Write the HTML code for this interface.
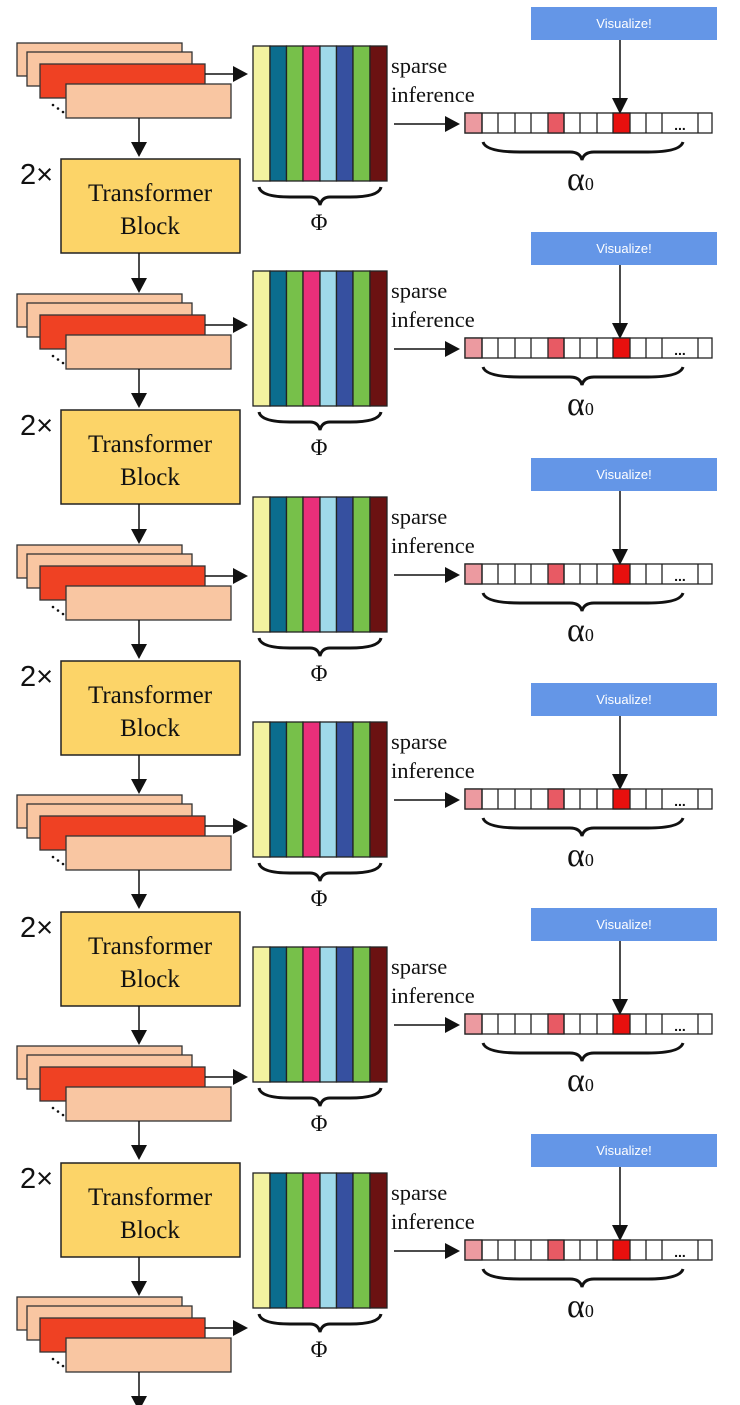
<!DOCTYPE html>
<html><head><meta charset="utf-8"><style>
html,body{margin:0;padding:0;background:#fff;width:740px;height:1405px;overflow:hidden}
svg{display:block}
.s{font-family:"Liberation Serif",serif}
.a{font-family:"Liberation Sans",sans-serif}
</style></head><body>
<svg width="740" height="1405" viewBox="0 0 740 1405" xmlns="http://www.w3.org/2000/svg">
<defs>
<g id="stk">
<rect x="17" y="0" width="165" height="33" fill="#f9c6a2" stroke="#333" stroke-width="1.3"/>
<rect x="27" y="9" width="165" height="34" fill="#f9c6a2" stroke="#333" stroke-width="1.3"/>
<rect x="40" y="21" width="165" height="34" fill="#ef4123" stroke="#333" stroke-width="1.3"/>
<rect x="66" y="41" width="165" height="34" fill="#f9c6a2" stroke="#333" stroke-width="1.3"/>
<circle cx="53" cy="62" r="1.3" fill="#111"/><circle cx="58" cy="65.5" r="1.3" fill="#111"/><circle cx="63" cy="69" r="1.3" fill="#111"/>
<line x1="205" y1="31" x2="236" y2="31" stroke="#111" stroke-width="1.5"/>
<polygon points="233,23 248,31 233,39" fill="#111"/>
<line x1="139" y1="75" x2="139" y2="100" stroke="#111" stroke-width="1.5"/>
<polygon points="131,99 147,99 139,114" fill="#111"/>
</g>
<g id="mat">
<rect x="253" y="0" width="17" height="135" fill="#f3f2a0" stroke="#222" stroke-width="1.3"/>
<rect x="270" y="0" width="16.5" height="135" fill="#0b6d8e" stroke="#222" stroke-width="1.3"/>
<rect x="286.5" y="0" width="16.5" height="135" fill="#77c04a" stroke="#222" stroke-width="1.3"/>
<rect x="303" y="0" width="17" height="135" fill="#ea2f7a" stroke="#222" stroke-width="1.3"/>
<rect x="320" y="0" width="16.5" height="135" fill="#9fd9ea" stroke="#222" stroke-width="1.3"/>
<rect x="336.5" y="0" width="16.5" height="135" fill="#3650a0" stroke="#222" stroke-width="1.3"/>
<rect x="353" y="0" width="17" height="135" fill="#77c04a" stroke="#222" stroke-width="1.3"/>
<rect x="370" y="0" width="17" height="135" fill="#6b1212" stroke="#222" stroke-width="1.3"/>
<path d="M259,141 Q261,151 290,151 L310,151 Q318,151 320,159 Q322,151 330,151 L350,151 Q379,151 381,141" fill="none" stroke="#111" stroke-width="3"/>
<rect x="531" y="-39" width="186" height="33" fill="#6496e7"/>
<line x1="620" y1="-6" x2="620" y2="54" stroke="#111" stroke-width="1.5"/>
<polygon points="612,52 628,52 620,68" fill="#111"/>
<line x1="394" y1="78" x2="447" y2="78" stroke="#111" stroke-width="1.5"/>
<polygon points="445,70 460,78 445,86" fill="#111"/>
<rect x="465" y="67" width="247" height="20" fill="#fff" stroke="#222" stroke-width="1.3"/>
<rect x="465" y="67" width="17" height="20" fill="#ec9aa0" stroke="#222" stroke-width="1.3"/>
<rect x="548" y="67" width="16" height="20" fill="#e85a64" stroke="#222" stroke-width="1.3"/>
<rect x="613" y="67" width="17" height="20" fill="#e8100e" stroke="#222" stroke-width="1.3"/>
<path d="M482,67V87M498,67V87M515,67V87M531,67V87M564,67V87M580,67V87M597,67V87M646,67V87M662,67V87M698,67V87" stroke="#222" stroke-width="1.3"/>
<path d="M483,96 Q486,106 520,106 L570,106 Q580,106 582,114 Q584,106 594,106 L648,106 Q680,106 683,96" fill="none" stroke="#111" stroke-width="3"/>
</g>
</defs>
<g class="s" font-size="25">
<use href="#stk" transform="translate(0,43)"/>
<use href="#stk" transform="translate(0,294)"/>
<use href="#stk" transform="translate(0,545)"/>
<use href="#stk" transform="translate(0,795)"/>
<use href="#stk" transform="translate(0,1046)"/>
<use href="#stk" transform="translate(0,1297)"/>
<g fill="#111">
<rect x="61" y="159" width="179" height="94" fill="#fcd468" stroke="#222" stroke-width="1.5"/>
<text x="150" y="201" text-anchor="middle">Transformer</text><text x="150" y="234" text-anchor="middle">Block</text>
<text x="20" y="184" class="a" font-size="29">2×</text>
<line x1="139" y1="253" x2="139" y2="279" stroke="#111" stroke-width="1.5"/><polygon points="131,278 147,278 139,293"/>

<rect x="61" y="410" width="179" height="94" fill="#fcd468" stroke="#222" stroke-width="1.5"/>
<text x="150" y="452" text-anchor="middle">Transformer</text><text x="150" y="485" text-anchor="middle">Block</text>
<text x="20" y="435" class="a" font-size="29">2×</text>
<line x1="139" y1="504" x2="139" y2="530" stroke="#111" stroke-width="1.5"/><polygon points="131,529 147,529 139,544"/>

<rect x="61" y="661" width="179" height="94" fill="#fcd468" stroke="#222" stroke-width="1.5"/>
<text x="150" y="703" text-anchor="middle">Transformer</text><text x="150" y="736" text-anchor="middle">Block</text>
<text x="20" y="686" class="a" font-size="29">2×</text>
<line x1="139" y1="755" x2="139" y2="780" stroke="#111" stroke-width="1.5"/><polygon points="131,779 147,779 139,794"/>

<rect x="61" y="912" width="179" height="94" fill="#fcd468" stroke="#222" stroke-width="1.5"/>
<text x="150" y="954" text-anchor="middle">Transformer</text><text x="150" y="987" text-anchor="middle">Block</text>
<text x="20" y="937" class="a" font-size="29">2×</text>
<line x1="139" y1="1006" x2="139" y2="1031" stroke="#111" stroke-width="1.5"/><polygon points="131,1030 147,1030 139,1045"/>

<rect x="61" y="1163" width="179" height="94" fill="#fcd468" stroke="#222" stroke-width="1.5"/>
<text x="150" y="1205" text-anchor="middle">Transformer</text><text x="150" y="1238" text-anchor="middle">Block</text>
<text x="20" y="1188" class="a" font-size="29">2×</text>
<line x1="139" y1="1257" x2="139" y2="1282" stroke="#111" stroke-width="1.5"/><polygon points="131,1281 147,1281 139,1296"/>
</g>
<use href="#mat" transform="translate(0,46)"/>
<use href="#mat" transform="translate(0,271)"/>
<use href="#mat" transform="translate(0,497)"/>
<use href="#mat" transform="translate(0,722)"/>
<use href="#mat" transform="translate(0,947)"/>
<use href="#mat" transform="translate(0,1173)"/>
<g fill="#111" font-size="22.5">
<text x="391" y="73">sparse</text><text x="391" y="102">inference</text>
<text x="391" y="298">sparse</text><text x="391" y="327">inference</text>
<text x="391" y="524">sparse</text><text x="391" y="553">inference</text>
<text x="391" y="749">sparse</text><text x="391" y="778">inference</text>
<text x="391" y="974">sparse</text><text x="391" y="1003">inference</text>
<text x="391" y="1200">sparse</text><text x="391" y="1229">inference</text>
</g>
<g fill="#111" font-size="23" text-anchor="middle">
<text x="319" y="230">Φ</text><text x="319" y="455">Φ</text><text x="319" y="681">Φ</text><text x="319" y="906">Φ</text><text x="319" y="1131">Φ</text><text x="319" y="1357">Φ</text>
</g>
<g fill="#111" font-size="34">
<text x="567" y="190">α<tspan font-size="18">0</tspan></text>
<text x="567" y="415">α<tspan font-size="18">0</tspan></text>
<text x="567" y="641">α<tspan font-size="18">0</tspan></text>
<text x="567" y="866">α<tspan font-size="18">0</tspan></text>
<text x="567" y="1091">α<tspan font-size="18">0</tspan></text>
<text x="567" y="1317">α<tspan font-size="18">0</tspan></text>
</g>
<g fill="#111" font-size="14" class="a" font-weight="bold" text-anchor="middle">
<text x="680" y="130">...</text><text x="680" y="355">...</text><text x="680" y="581">...</text><text x="680" y="806">...</text><text x="680" y="1031">...</text><text x="680" y="1257">...</text>
</g>
<g fill="#fff" font-size="13" class="a" text-anchor="middle">
<text x="624" y="28">Visualize!</text><text x="624" y="253">Visualize!</text><text x="624" y="479">Visualize!</text><text x="624" y="704">Visualize!</text><text x="624" y="929">Visualize!</text><text x="624" y="1155">Visualize!</text>
</g>
</g>
</svg>
</body></html>
